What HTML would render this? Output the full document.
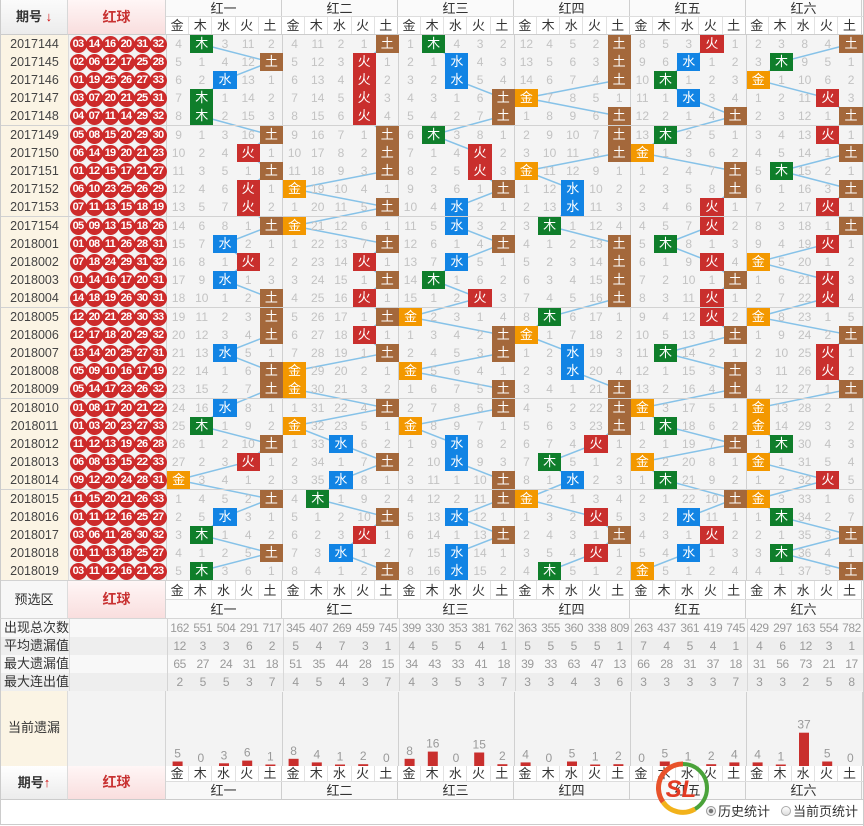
<!DOCTYPE html>
<html><head><meta charset="utf-8">
<style>
*{margin:0;padding:0;box-sizing:border-box}
body{width:864px;height:826px;position:relative;background:#fff;font-family:"Liberation Sans","Noto Sans CJK SC",sans-serif;overflow:hidden;color:#333}
.a{position:absolute}
.r,.st{display:flex;height:18px;line-height:18px;font-size:12px}
.r u,.st u{text-decoration:none;flex:0 0 68px;border-right:1px solid #dcdcdc}
.r u{background:#fbf4e4;color:#444;text-align:center;font-size:12.5px}
.r em{flex:0 0 98px;background:#f3f3f3;display:flex;align-items:center;padding-left:0.5px;border-right:1px solid #d4d4d4}
.r em a{flex:0 0 17px;height:17px;border-radius:50%;background:#cd2b2b;color:#fff;font-size:11px;font-weight:bold;text-align:center;line-height:17px;margin-right:-1px;letter-spacing:-0.7px;font-style:normal}
.r i{flex:0 0 23.2px;text-align:center;color:#c3c3c3;font-style:normal}
.r i.j,.r i.m,.r i.s,.r i.h,.r i.t{color:#fff;font-size:13px}
.j{background:#f39800}.m{background:#0f7e2b}.s{background:#1284e4}.h{background:#c92f2d}.t{background:#a4683b}
.blk{border-bottom:1px solid #d2d2d2}
.hd{display:flex;height:18px;line-height:18px}
.hd span{flex:0 0 23.2px;text-align:center;border-right:1px solid #e2e2e2;font-size:13px;color:#333}
.hd span:nth-child(5n){border-right-color:#cfcfcf}
.gn{display:flex;height:17px;line-height:17px}
.gn span{flex:0 0 116px;text-align:center;border-right:1px solid #cfcfcf;font-size:13px;color:#333}
.st u{color:#333;font-size:13px;padding-left:3px;white-space:nowrap}
.st em{flex:0 0 98px;border-right:1px solid #d4d4d4}
.st i{flex:0 0 23.2px;text-align:center;color:#9a9a9a;font-style:normal;letter-spacing:-0.4px}
.st i:nth-child(5n+2){border-right:1px solid #d8d8d8}
</style></head><body>

<!-- top header -->
<div class="a" style="left:0;top:0;width:68px;height:35px;background:linear-gradient(#fbfbfb,#ececec);border-right:1px solid #d8d8d8;border-bottom:1px solid #ccc;border-left:1px solid #ccc;font-weight:bold;font-size:13px;text-align:center;line-height:34px">期号 <span style="color:#d01010">↓</span></div>
<div class="a" style="left:68px;top:0;width:98px;height:35px;background:linear-gradient(#fff6f6,#f9dede);border-right:1px solid #d4d4d4;border-bottom:1px solid #ccc;color:#c83232;font-weight:bold;font-size:14px;text-align:center;line-height:34px">红球</div>
<div class="a gn" style="left:166px;top:0;width:698px;background:#fafafa;border-bottom:1px solid #ddd"><span>红一</span><span>红二</span><span>红三</span><span>红四</span><span>红五</span><span>红六</span></div>
<div class="a hd" style="left:166px;top:17px;width:698px;background:#fff;border-bottom:1px solid #ccc;height:18px"><span>金</span><span>木</span><span>水</span><span>火</span><span>土</span><span>金</span><span>木</span><span>水</span><span>火</span><span>土</span><span>金</span><span>木</span><span>水</span><span>火</span><span>土</span><span>金</span><span>木</span><span>水</span><span>火</span><span>土</span><span>金</span><span>木</span><span>水</span><span>火</span><span>土</span><span>金</span><span>木</span><span>水</span><span>火</span><span>土</span></div>

<!-- data background + lines -->
<div class="a" style="left:166px;top:35px;width:697px;height:546px;background:#f4f4f4"></div>
<svg class="a" style="left:166px;top:35px" width="698" height="546" viewBox="0 0 698 546">
<g stroke="#d0d0d0" stroke-width="1">
<line x1="116.5" y1="0" x2="116.5" y2="546"/><line x1="232.5" y1="0" x2="232.5" y2="546"/><line x1="348.5" y1="0" x2="348.5" y2="546"/><line x1="464.5" y1="0" x2="464.5" y2="546"/><line x1="580.5" y1="0" x2="580.5" y2="546"/><line x1="696.5" y1="0" x2="696.5" y2="546"/>
</g>
<g fill="none" stroke="#86c2e8" stroke-width="1.5">
<polyline points="34.8,9 104.4,27 58,45 34.8,63 34.8,81 104.4,100 81.2,118 104.4,136 81.2,154 81.2,172 104.4,191 58,209 81.2,227 58,245 104.4,263 104.4,282 104.4,300 58,318 104.4,336 104.4,354 58,373 34.8,391 104.4,409 81.2,427 11.6,445 104.4,464 58,482 34.8,500 104.4,518 34.8,536"/>
<polyline points="220.4,9 197.2,27 197.2,45 197.2,63 197.2,81 220.4,100 220.4,118 220.4,136 127.6,154 220.4,172 127.6,191 220.4,209 197.2,227 220.4,245 197.2,263 220.4,282 197.2,300 220.4,318 127.6,336 127.6,354 220.4,373 127.6,391 174,409 220.4,427 174,445 150.8,464 220.4,482 197.2,500 174,518 220.4,536"/>
<polyline points="266.8,9 290,27 290,45 336.4,63 336.4,81 266.8,100 313.2,118 313.2,136 336.4,154 290,172 290,191 336.4,209 290,227 266.8,245 313.2,263 243.6,282 336.4,300 336.4,318 243.6,336 336.4,354 336.4,373 243.6,391 290,409 290,427 336.4,445 336.4,464 290,482 336.4,500 290,518 290,536"/>
<polyline points="452.4,9 452.4,27 452.4,45 359.6,63 452.4,81 452.4,100 452.4,118 359.6,136 406,154 406,172 382.8,191 452.4,209 452.4,227 452.4,245 452.4,263 382.8,282 359.6,300 406,318 406,336 452.4,354 452.4,373 452.4,391 429.2,409 382.8,427 406,445 359.6,464 429.2,482 452.4,500 429.2,518 382.8,536"/>
<polyline points="545.2,9 522,27 498.8,45 522,63 568.4,81 498.8,100 475.6,118 568.4,136 568.4,154 545.2,172 545.2,191 498.8,209 545.2,227 568.4,245 545.2,263 545.2,282 568.4,300 498.8,318 568.4,336 568.4,354 475.6,373 498.8,391 568.4,409 475.6,427 498.8,445 568.4,464 522,482 545.2,500 522,518 475.6,536"/>
<polyline points="684.4,9 614.8,27 591.6,45 661.2,63 684.4,81 661.2,100 684.4,118 614.8,136 684.4,154 661.2,172 684.4,191 661.2,209 591.6,227 661.2,245 661.2,263 591.6,282 684.4,300 661.2,318 661.2,336 684.4,354 591.6,373 591.6,391 614.8,409 591.6,427 661.2,445 591.6,464 614.8,482 684.4,500 614.8,518 684.4,536"/>
</g>
</svg>

<!-- data rows -->
<div class="a" style="left:0;top:35px;width:864px;border-left:1px solid #ccc">
<div class="blk">
<div class="r"><u>2017144</u><em><a>03</a><a>14</a><a>16</a><a>20</a><a>31</a><a>32</a></em><i>4</i><i class=m>木</i><i>3</i><i>11</i><i>2</i><i>4</i><i>11</i><i>2</i><i>1</i><i class=t>土</i><i>1</i><i class=m>木</i><i>4</i><i>3</i><i>2</i><i>12</i><i>4</i><i>5</i><i>2</i><i class=t>土</i><i>8</i><i>5</i><i>3</i><i class=h>火</i><i>1</i><i>2</i><i>3</i><i>8</i><i>4</i><i class=t>土</i></div>
<div class="r"><u>2017145</u><em><a>02</a><a>06</a><a>12</a><a>17</a><a>25</a><a>28</a></em><i>5</i><i>1</i><i>4</i><i>12</i><i class=t>土</i><i>5</i><i>12</i><i>3</i><i class=h>火</i><i>1</i><i>2</i><i>1</i><i class=s>水</i><i>4</i><i>3</i><i>13</i><i>5</i><i>6</i><i>3</i><i class=t>土</i><i>9</i><i>6</i><i class=s>水</i><i>1</i><i>2</i><i>3</i><i class=m>木</i><i>9</i><i>5</i><i>1</i></div>
<div class="r"><u>2017146</u><em><a>01</a><a>19</a><a>25</a><a>26</a><a>27</a><a>33</a></em><i>6</i><i>2</i><i class=s>水</i><i>13</i><i>1</i><i>6</i><i>13</i><i>4</i><i class=h>火</i><i>2</i><i>3</i><i>2</i><i class=s>水</i><i>5</i><i>4</i><i>14</i><i>6</i><i>7</i><i>4</i><i class=t>土</i><i>10</i><i class=m>木</i><i>1</i><i>2</i><i>3</i><i class=j>金</i><i>1</i><i>10</i><i>6</i><i>2</i></div>
<div class="r"><u>2017147</u><em><a>03</a><a>07</a><a>20</a><a>21</a><a>25</a><a>31</a></em><i>7</i><i class=m>木</i><i>1</i><i>14</i><i>2</i><i>7</i><i>14</i><i>5</i><i class=h>火</i><i>3</i><i>4</i><i>3</i><i>1</i><i>6</i><i class=t>土</i><i class=j>金</i><i>7</i><i>8</i><i>5</i><i>1</i><i>11</i><i>1</i><i class=s>水</i><i>3</i><i>4</i><i>1</i><i>2</i><i>11</i><i class=h>火</i><i>3</i></div>
<div class="r"><u>2017148</u><em><a>04</a><a>07</a><a>11</a><a>14</a><a>29</a><a>32</a></em><i>8</i><i class=m>木</i><i>2</i><i>15</i><i>3</i><i>8</i><i>15</i><i>6</i><i class=h>火</i><i>4</i><i>5</i><i>4</i><i>2</i><i>7</i><i class=t>土</i><i>1</i><i>8</i><i>9</i><i>6</i><i class=t>土</i><i>12</i><i>2</i><i>1</i><i>4</i><i class=t>土</i><i>2</i><i>3</i><i>12</i><i>1</i><i class=t>土</i></div>
</div>
<div class="blk">
<div class="r"><u>2017149</u><em><a>05</a><a>08</a><a>15</a><a>20</a><a>29</a><a>30</a></em><i>9</i><i>1</i><i>3</i><i>16</i><i class=t>土</i><i>9</i><i>16</i><i>7</i><i>1</i><i class=t>土</i><i>6</i><i class=m>木</i><i>3</i><i>8</i><i>1</i><i>2</i><i>9</i><i>10</i><i>7</i><i class=t>土</i><i>13</i><i class=m>木</i><i>2</i><i>5</i><i>1</i><i>3</i><i>4</i><i>13</i><i class=h>火</i><i>1</i></div>
<div class="r"><u>2017150</u><em><a>06</a><a>14</a><a>19</a><a>20</a><a>21</a><a>23</a></em><i>10</i><i>2</i><i>4</i><i class=h>火</i><i>1</i><i>10</i><i>17</i><i>8</i><i>2</i><i class=t>土</i><i>7</i><i>1</i><i>4</i><i class=h>火</i><i>2</i><i>3</i><i>10</i><i>11</i><i>8</i><i class=t>土</i><i class=j>金</i><i>1</i><i>3</i><i>6</i><i>2</i><i>4</i><i>5</i><i>14</i><i>1</i><i class=t>土</i></div>
<div class="r"><u>2017151</u><em><a>01</a><a>12</a><a>15</a><a>17</a><a>21</a><a>27</a></em><i>11</i><i>3</i><i>5</i><i>1</i><i class=t>土</i><i>11</i><i>18</i><i>9</i><i>3</i><i class=t>土</i><i>8</i><i>2</i><i>5</i><i class=h>火</i><i>3</i><i class=j>金</i><i>11</i><i>12</i><i>9</i><i>1</i><i>1</i><i>2</i><i>4</i><i>7</i><i class=t>土</i><i>5</i><i class=m>木</i><i>15</i><i>2</i><i>1</i></div>
<div class="r"><u>2017152</u><em><a>06</a><a>10</a><a>23</a><a>25</a><a>26</a><a>29</a></em><i>12</i><i>4</i><i>6</i><i class=h>火</i><i>1</i><i class=j>金</i><i>19</i><i>10</i><i>4</i><i>1</i><i>9</i><i>3</i><i>6</i><i>1</i><i class=t>土</i><i>1</i><i>12</i><i class=s>水</i><i>10</i><i>2</i><i>2</i><i>3</i><i>5</i><i>8</i><i class=t>土</i><i>6</i><i>1</i><i>16</i><i>3</i><i class=t>土</i></div>
<div class="r"><u>2017153</u><em><a>07</a><a>11</a><a>13</a><a>15</a><a>18</a><a>19</a></em><i>13</i><i>5</i><i>7</i><i class=h>火</i><i>2</i><i>1</i><i>20</i><i>11</i><i>5</i><i class=t>土</i><i>10</i><i>4</i><i class=s>水</i><i>2</i><i>1</i><i>2</i><i>13</i><i class=s>水</i><i>11</i><i>3</i><i>3</i><i>4</i><i>6</i><i class=h>火</i><i>1</i><i>7</i><i>2</i><i>17</i><i class=h>火</i><i>1</i></div>
</div>
<div class="blk">
<div class="r"><u>2017154</u><em><a>05</a><a>09</a><a>13</a><a>15</a><a>18</a><a>26</a></em><i>14</i><i>6</i><i>8</i><i>1</i><i class=t>土</i><i class=j>金</i><i>21</i><i>12</i><i>6</i><i>1</i><i>11</i><i>5</i><i class=s>水</i><i>3</i><i>2</i><i>3</i><i class=m>木</i><i>1</i><i>12</i><i>4</i><i>4</i><i>5</i><i>7</i><i class=h>火</i><i>2</i><i>8</i><i>3</i><i>18</i><i>1</i><i class=t>土</i></div>
<div class="r"><u>2018001</u><em><a>01</a><a>08</a><a>11</a><a>26</a><a>28</a><a>31</a></em><i>15</i><i>7</i><i class=s>水</i><i>2</i><i>1</i><i>1</i><i>22</i><i>13</i><i>7</i><i class=t>土</i><i>12</i><i>6</i><i>1</i><i>4</i><i class=t>土</i><i>4</i><i>1</i><i>2</i><i>13</i><i class=t>土</i><i>5</i><i class=m>木</i><i>8</i><i>1</i><i>3</i><i>9</i><i>4</i><i>19</i><i class=h>火</i><i>1</i></div>
<div class="r"><u>2018002</u><em><a>07</a><a>18</a><a>24</a><a>29</a><a>31</a><a>32</a></em><i>16</i><i>8</i><i>1</i><i class=h>火</i><i>2</i><i>2</i><i>23</i><i>14</i><i class=h>火</i><i>1</i><i>13</i><i>7</i><i class=s>水</i><i>5</i><i>1</i><i>5</i><i>2</i><i>3</i><i>14</i><i class=t>土</i><i>6</i><i>1</i><i>9</i><i class=h>火</i><i>4</i><i class=j>金</i><i>5</i><i>20</i><i>1</i><i>2</i></div>
<div class="r"><u>2018003</u><em><a>01</a><a>14</a><a>16</a><a>17</a><a>20</a><a>31</a></em><i>17</i><i>9</i><i class=s>水</i><i>1</i><i>3</i><i>3</i><i>24</i><i>15</i><i>1</i><i class=t>土</i><i>14</i><i class=m>木</i><i>1</i><i>6</i><i>2</i><i>6</i><i>3</i><i>4</i><i>15</i><i class=t>土</i><i>7</i><i>2</i><i>10</i><i>1</i><i class=t>土</i><i>1</i><i>6</i><i>21</i><i class=h>火</i><i>3</i></div>
<div class="r"><u>2018004</u><em><a>14</a><a>18</a><a>19</a><a>26</a><a>30</a><a>31</a></em><i>18</i><i>10</i><i>1</i><i>2</i><i class=t>土</i><i>4</i><i>25</i><i>16</i><i class=h>火</i><i>1</i><i>15</i><i>1</i><i>2</i><i class=h>火</i><i>3</i><i>7</i><i>4</i><i>5</i><i>16</i><i class=t>土</i><i>8</i><i>3</i><i>11</i><i class=h>火</i><i>1</i><i>2</i><i>7</i><i>22</i><i class=h>火</i><i>4</i></div>
</div>
<div class="blk">
<div class="r"><u>2018005</u><em><a>12</a><a>20</a><a>21</a><a>28</a><a>30</a><a>33</a></em><i>19</i><i>11</i><i>2</i><i>3</i><i class=t>土</i><i>5</i><i>26</i><i>17</i><i>1</i><i class=t>土</i><i class=j>金</i><i>2</i><i>3</i><i>1</i><i>4</i><i>8</i><i class=m>木</i><i>6</i><i>17</i><i>1</i><i>9</i><i>4</i><i>12</i><i class=h>火</i><i>2</i><i class=j>金</i><i>8</i><i>23</i><i>1</i><i>5</i></div>
<div class="r"><u>2018006</u><em><a>12</a><a>17</a><a>18</a><a>20</a><a>29</a><a>32</a></em><i>20</i><i>12</i><i>3</i><i>4</i><i class=t>土</i><i>6</i><i>27</i><i>18</i><i class=h>火</i><i>1</i><i>1</i><i>3</i><i>4</i><i>2</i><i class=t>土</i><i class=j>金</i><i>1</i><i>7</i><i>18</i><i>2</i><i>10</i><i>5</i><i>13</i><i>1</i><i class=t>土</i><i>1</i><i>9</i><i>24</i><i>2</i><i class=t>土</i></div>
<div class="r"><u>2018007</u><em><a>13</a><a>14</a><a>20</a><a>25</a><a>27</a><a>31</a></em><i>21</i><i>13</i><i class=s>水</i><i>5</i><i>1</i><i>7</i><i>28</i><i>19</i><i>1</i><i class=t>土</i><i>2</i><i>4</i><i>5</i><i>3</i><i class=t>土</i><i>1</i><i>2</i><i class=s>水</i><i>19</i><i>3</i><i>11</i><i class=m>木</i><i>14</i><i>2</i><i>1</i><i>2</i><i>10</i><i>25</i><i class=h>火</i><i>1</i></div>
<div class="r"><u>2018008</u><em><a>05</a><a>09</a><a>10</a><a>16</a><a>17</a><a>19</a></em><i>22</i><i>14</i><i>1</i><i>6</i><i class=t>土</i><i class=j>金</i><i>29</i><i>20</i><i>2</i><i>1</i><i class=j>金</i><i>5</i><i>6</i><i>4</i><i>1</i><i>2</i><i>3</i><i class=s>水</i><i>20</i><i>4</i><i>12</i><i>1</i><i>15</i><i>3</i><i class=t>土</i><i>3</i><i>11</i><i>26</i><i class=h>火</i><i>2</i></div>
<div class="r"><u>2018009</u><em><a>05</a><a>14</a><a>17</a><a>23</a><a>26</a><a>32</a></em><i>23</i><i>15</i><i>2</i><i>7</i><i class=t>土</i><i class=j>金</i><i>30</i><i>21</i><i>3</i><i>2</i><i>1</i><i>6</i><i>7</i><i>5</i><i class=t>土</i><i>3</i><i>4</i><i>1</i><i>21</i><i class=t>土</i><i>13</i><i>2</i><i>16</i><i>4</i><i class=t>土</i><i>4</i><i>12</i><i>27</i><i>1</i><i class=t>土</i></div>
</div>
<div class="blk">
<div class="r"><u>2018010</u><em><a>01</a><a>08</a><a>17</a><a>20</a><a>21</a><a>22</a></em><i>24</i><i>16</i><i class=s>水</i><i>8</i><i>1</i><i>1</i><i>31</i><i>22</i><i>4</i><i class=t>土</i><i>2</i><i>7</i><i>8</i><i>6</i><i class=t>土</i><i>4</i><i>5</i><i>2</i><i>22</i><i class=t>土</i><i class=j>金</i><i>3</i><i>17</i><i>5</i><i>1</i><i class=j>金</i><i>13</i><i>28</i><i>2</i><i>1</i></div>
<div class="r"><u>2018011</u><em><a>01</a><a>03</a><a>20</a><a>23</a><a>27</a><a>33</a></em><i>25</i><i class=m>木</i><i>1</i><i>9</i><i>2</i><i class=j>金</i><i>32</i><i>23</i><i>5</i><i>1</i><i class=j>金</i><i>8</i><i>9</i><i>7</i><i>1</i><i>5</i><i>6</i><i>3</i><i>23</i><i class=t>土</i><i>1</i><i class=m>木</i><i>18</i><i>6</i><i>2</i><i class=j>金</i><i>14</i><i>29</i><i>3</i><i>2</i></div>
<div class="r"><u>2018012</u><em><a>11</a><a>12</a><a>13</a><a>19</a><a>26</a><a>28</a></em><i>26</i><i>1</i><i>2</i><i>10</i><i class=t>土</i><i>1</i><i>33</i><i class=s>水</i><i>6</i><i>2</i><i>1</i><i>9</i><i class=s>水</i><i>8</i><i>2</i><i>6</i><i>7</i><i>4</i><i class=h>火</i><i>1</i><i>2</i><i>1</i><i>19</i><i>7</i><i class=t>土</i><i>1</i><i class=m>木</i><i>30</i><i>4</i><i>3</i></div>
<div class="r"><u>2018013</u><em><a>06</a><a>08</a><a>13</a><a>15</a><a>22</a><a>33</a></em><i>27</i><i>2</i><i>3</i><i class=h>火</i><i>1</i><i>2</i><i>34</i><i>1</i><i>7</i><i class=t>土</i><i>2</i><i>10</i><i class=s>水</i><i>9</i><i>3</i><i>7</i><i class=m>木</i><i>5</i><i>1</i><i>2</i><i class=j>金</i><i>2</i><i>20</i><i>8</i><i>1</i><i class=j>金</i><i>1</i><i>31</i><i>5</i><i>4</i></div>
<div class="r"><u>2018014</u><em><a>09</a><a>12</a><a>20</a><a>24</a><a>28</a><a>31</a></em><i class=j>金</i><i>3</i><i>4</i><i>1</i><i>2</i><i>3</i><i>35</i><i class=s>水</i><i>8</i><i>1</i><i>3</i><i>11</i><i>1</i><i>10</i><i class=t>土</i><i>8</i><i>1</i><i class=s>水</i><i>2</i><i>3</i><i>1</i><i class=m>木</i><i>21</i><i>9</i><i>2</i><i>1</i><i>2</i><i>32</i><i class=h>火</i><i>5</i></div>
</div>
<div class="blk">
<div class="r"><u>2018015</u><em><a>11</a><a>15</a><a>20</a><a>21</a><a>26</a><a>33</a></em><i>1</i><i>4</i><i>5</i><i>2</i><i class=t>土</i><i>4</i><i class=m>木</i><i>1</i><i>9</i><i>2</i><i>4</i><i>12</i><i>2</i><i>11</i><i class=t>土</i><i class=j>金</i><i>2</i><i>1</i><i>3</i><i>4</i><i>2</i><i>1</i><i>22</i><i>10</i><i class=t>土</i><i class=j>金</i><i>3</i><i>33</i><i>1</i><i>6</i></div>
<div class="r"><u>2018016</u><em><a>01</a><a>11</a><a>12</a><a>16</a><a>25</a><a>27</a></em><i>2</i><i>5</i><i class=s>水</i><i>3</i><i>1</i><i>5</i><i>1</i><i>2</i><i>10</i><i class=t>土</i><i>5</i><i>13</i><i class=s>水</i><i>12</i><i>1</i><i>1</i><i>3</i><i>2</i><i class=h>火</i><i>5</i><i>3</i><i>2</i><i class=s>水</i><i>11</i><i>1</i><i>1</i><i class=m>木</i><i>34</i><i>2</i><i>7</i></div>
<div class="r"><u>2018017</u><em><a>03</a><a>06</a><a>11</a><a>26</a><a>30</a><a>32</a></em><i>3</i><i class=m>木</i><i>1</i><i>4</i><i>2</i><i>6</i><i>2</i><i>3</i><i class=h>火</i><i>1</i><i>6</i><i>14</i><i>1</i><i>13</i><i class=t>土</i><i>2</i><i>4</i><i>3</i><i>1</i><i class=t>土</i><i>4</i><i>3</i><i>1</i><i class=h>火</i><i>2</i><i>2</i><i>1</i><i>35</i><i>3</i><i class=t>土</i></div>
<div class="r"><u>2018018</u><em><a>01</a><a>11</a><a>13</a><a>18</a><a>25</a><a>27</a></em><i>4</i><i>1</i><i>2</i><i>5</i><i class=t>土</i><i>7</i><i>3</i><i class=s>水</i><i>1</i><i>2</i><i>7</i><i>15</i><i class=s>水</i><i>14</i><i>1</i><i>3</i><i>5</i><i>4</i><i class=h>火</i><i>1</i><i>5</i><i>4</i><i class=s>水</i><i>1</i><i>3</i><i>3</i><i class=m>木</i><i>36</i><i>4</i><i>1</i></div>
<div class="r"><u>2018019</u><em><a>03</a><a>11</a><a>12</a><a>16</a><a>21</a><a>23</a></em><i>5</i><i class=m>木</i><i>3</i><i>6</i><i>1</i><i>8</i><i>4</i><i>1</i><i>2</i><i class=t>土</i><i>8</i><i>16</i><i class=s>水</i><i>15</i><i>2</i><i>4</i><i class=m>木</i><i>5</i><i>1</i><i>2</i><i class=j>金</i><i>5</i><i>1</i><i>2</i><i>4</i><i>4</i><i>1</i><i>37</i><i>5</i><i class=t>土</i></div>
</div>
</div>

<!-- 预选区 -->
<div class="a" style="left:0;top:581px;width:68px;height:38px;background:#f7f7f7;border-left:1px solid #ccc;border-right:1px solid #dcdcdc;border-bottom:1px solid #d6d6d6;font-size:13px;text-align:center;line-height:37px">预选区</div>
<div class="a" style="left:68px;top:581px;width:98px;height:38px;background:linear-gradient(#fff6f6,#f9dede);border-right:1px solid #d4d4d4;border-bottom:1px solid #d6d6d6;color:#c83232;font-weight:bold;font-size:14px;text-align:center;line-height:37px">红球</div>
<div class="a hd" style="left:166px;top:581px;width:698px;height:19px;background:#fff;border-bottom:1px solid #ddd;line-height:19px"><span>金</span><span>木</span><span>水</span><span>火</span><span>土</span><span>金</span><span>木</span><span>水</span><span>火</span><span>土</span><span>金</span><span>木</span><span>水</span><span>火</span><span>土</span><span>金</span><span>木</span><span>水</span><span>火</span><span>土</span><span>金</span><span>木</span><span>水</span><span>火</span><span>土</span><span>金</span><span>木</span><span>水</span><span>火</span><span>土</span></div>
<div class="a gn" style="left:166px;top:600px;width:698px;height:19px;line-height:19px;background:#fafafa;border-bottom:1px solid #d6d6d6"><span>红一</span><span>红二</span><span>红三</span><span>红四</span><span>红五</span><span>红六</span></div>

<!-- stats -->
<div class="a" style="left:0;top:619px;width:864px;border-left:1px solid #ccc">
<div class="st" style="background:#f8f8f8"><u>出现总次数</u><em></em><i>162</i><i>551</i><i>504</i><i>291</i><i>717</i><i>345</i><i>407</i><i>269</i><i>459</i><i>745</i><i>399</i><i>330</i><i>353</i><i>381</i><i>762</i><i>363</i><i>355</i><i>360</i><i>338</i><i>809</i><i>263</i><i>437</i><i>361</i><i>419</i><i>745</i><i>429</i><i>297</i><i>163</i><i>554</i><i>782</i></div>
<div class="st" style="background:#eeeeee"><u>平均遗漏值</u><em></em><i>12</i><i>3</i><i>3</i><i>6</i><i>2</i><i>5</i><i>4</i><i>7</i><i>3</i><i>1</i><i>4</i><i>5</i><i>5</i><i>4</i><i>1</i><i>5</i><i>5</i><i>5</i><i>5</i><i>1</i><i>7</i><i>4</i><i>5</i><i>4</i><i>1</i><i>4</i><i>6</i><i>12</i><i>3</i><i>1</i></div>
<div class="st" style="background:#f8f8f8"><u>最大遗漏值</u><em></em><i>65</i><i>27</i><i>24</i><i>31</i><i>18</i><i>51</i><i>35</i><i>44</i><i>28</i><i>15</i><i>34</i><i>43</i><i>33</i><i>41</i><i>18</i><i>39</i><i>33</i><i>63</i><i>47</i><i>13</i><i>66</i><i>28</i><i>31</i><i>37</i><i>18</i><i>31</i><i>56</i><i>73</i><i>21</i><i>17</i></div>
<div class="st" style="background:#eeeeee"><u>最大连出值</u><em></em><i>2</i><i>5</i><i>5</i><i>3</i><i>7</i><i>4</i><i>5</i><i>4</i><i>3</i><i>7</i><i>4</i><i>3</i><i>5</i><i>3</i><i>7</i><i>3</i><i>3</i><i>4</i><i>3</i><i>6</i><i>3</i><i>3</i><i>3</i><i>3</i><i>7</i><i>3</i><i>3</i><i>2</i><i>5</i><i>8</i></div>
</div>

<!-- 当前遗漏 -->
<div class="a" style="left:0;top:691px;width:68px;height:75px;background:#fbf4e4;border-left:1px solid #ccc;border-right:1px solid #dcdcdc;font-size:13px;text-align:center;line-height:74px">当前遗漏</div>
<div class="a" style="left:68px;top:691px;width:98px;height:75px;background:#f3f3f3;border-right:1px solid #d4d4d4"></div>
<div class="a" style="left:166px;top:691px;width:698px;height:75px;background:#f3f3f3"></div>
<svg class="a" style="left:166px;top:692px" width="698" height="74" viewBox="0 0 698 74" font-family="Liberation Sans, sans-serif" font-size="12" fill="#999" text-anchor="middle">
<g stroke="#d0d0d0"><line x1="116.5" y1="0" x2="116.5" y2="74"/><line x1="232.5" y1="0" x2="232.5" y2="74"/><line x1="348.5" y1="0" x2="348.5" y2="74"/><line x1="464.5" y1="0" x2="464.5" y2="74"/><line x1="580.5" y1="0" x2="580.5" y2="74"/><line x1="696.5" y1="0" x2="696.5" y2="74"/></g>
<g fill="#c92f2d">
<rect x="6.6" y="69.5" width="10" height="4.5"/><rect x="53" y="71.3" width="10" height="2.7"/><rect x="76.2" y="68.6" width="10" height="5.4"/><rect x="99.4" y="72.5" width="10" height="1.5"/>
<rect x="122.6" y="66.8" width="10" height="7.2"/><rect x="145.8" y="70.4" width="10" height="3.6"/><rect x="169" y="72.5" width="10" height="1.5"/><rect x="192.2" y="72.2" width="10" height="1.8"/>
<rect x="238.6" y="66.8" width="10" height="7.2"/><rect x="261.8" y="59.6" width="10" height="14.4"/><rect x="308.2" y="60.5" width="10" height="13.5"/><rect x="331.4" y="72.2" width="10" height="1.8"/>
<rect x="354.6" y="70.4" width="10" height="3.6"/><rect x="401" y="69.5" width="10" height="4.5"/><rect x="424.2" y="72.5" width="10" height="1.5"/><rect x="447.4" y="72.2" width="10" height="1.8"/>
<rect x="493.8" y="69.5" width="10" height="4.5"/><rect x="517" y="72.5" width="10" height="1.5"/><rect x="540.2" y="72.2" width="10" height="1.8"/><rect x="563.4" y="70.4" width="10" height="3.6"/>
<rect x="586.6" y="70.4" width="10" height="3.6"/><rect x="609.8" y="72.5" width="10" height="1.5"/><rect x="633" y="40.7" width="10" height="33.3"/><rect x="656.2" y="69.5" width="10" height="4.5"/>
</g>
<text x="11.6" y="65.5">5</text><text x="34.8" y="70">0</text><text x="58" y="67.3">3</text><text x="81.2" y="64.6">6</text><text x="104.4" y="68.5">1</text>
<text x="127.6" y="62.8">8</text><text x="150.8" y="66.4">4</text><text x="174" y="68.5">1</text><text x="197.2" y="68.2">2</text><text x="220.4" y="70">0</text>
<text x="243.6" y="62.8">8</text><text x="266.8" y="55.6">16</text><text x="290" y="70">0</text><text x="313.2" y="56.5">15</text><text x="336.4" y="68.2">2</text>
<text x="359.6" y="66.4">4</text><text x="382.8" y="70">0</text><text x="406" y="65.5">5</text><text x="429.2" y="68.5">1</text><text x="452.4" y="68.2">2</text>
<text x="475.6" y="70">0</text><text x="498.8" y="65.5">5</text><text x="522" y="68.5">1</text><text x="545.2" y="68.2">2</text><text x="568.4" y="66.4">4</text>
<text x="591.6" y="66.4">4</text><text x="614.8" y="68.5">1</text><text x="638" y="36.7">37</text><text x="661.2" y="65.5">5</text><text x="684.4" y="70">0</text>
</svg>

<!-- bottom header -->
<div class="a" style="left:0;top:766px;width:68px;height:34px;background:linear-gradient(#fff,#ececec);border-left:1px solid #ccc;border-right:1px solid #dcdcdc;border-bottom:1px solid #ccc;font-weight:bold;font-size:13px;text-align:center;line-height:33px">期号<span style="color:#d01010">↑</span></div>
<div class="a" style="left:68px;top:766px;width:98px;height:34px;background:linear-gradient(#fff6f6,#f9dede);border-right:1px solid #d4d4d4;border-bottom:1px solid #ccc;color:#c83232;font-weight:bold;font-size:14px;text-align:center;line-height:33px">红球</div>
<div class="a hd" style="left:166px;top:766px;width:698px;height:16px;line-height:16px;background:#fff;border-bottom:1px solid #ddd"><span>金</span><span>木</span><span>水</span><span>火</span><span>土</span><span>金</span><span>木</span><span>水</span><span>火</span><span>土</span><span>金</span><span>木</span><span>水</span><span>火</span><span>土</span><span>金</span><span>木</span><span>水</span><span>火</span><span>土</span><span>金</span><span>木</span><span>水</span><span>火</span><span>土</span><span>金</span><span>木</span><span>水</span><span>火</span><span>土</span></div>
<div class="a gn" style="left:166px;top:782px;width:698px;height:18px;line-height:17px;background:#f8f8f8;border-bottom:1px solid #ccc"><span>红一</span><span>红二</span><span>红三</span><span>红四</span><span>红五</span><span>红六</span></div>

<!-- footer area -->
<div class="a" style="left:0;top:800px;width:864px;height:25px;border-left:1px solid #ccc;border-right:1px solid #ccc;border-bottom:1px solid #ccc;background:#fff"></div>
<div class="a" style="left:706px;top:806px;width:10px;height:10px;border-radius:50%;border:1px solid #999;background:radial-gradient(#777 0 2px,#eee 2.5px)"></div>
<div class="a" style="left:718px;top:803px;font-size:13px;line-height:17px;color:#333">历史统计</div>
<div class="a" style="left:781px;top:806px;width:10px;height:10px;border-radius:50%;border:1px solid #aaa;background:linear-gradient(#fff,#ddd)"></div>
<div class="a" style="left:793px;top:803px;font-size:13px;line-height:17px;color:#333">当前页统计</div>

<!-- watermark logo -->
<svg class="a" style="left:655px;top:760px" width="56" height="56" viewBox="0 0 56 56">
<path d="M28 4 A24 24 0 0 0 8 42" fill="none" stroke="#e8522a" stroke-width="5"/>
<path d="M8 42 A24 24 0 0 0 40 49" fill="none" stroke="#f2b21b" stroke-width="5"/>
<path d="M28 4 A24 24 0 0 1 52 28 A24 24 0 0 1 40 49" fill="none" stroke="#4aa23a" stroke-width="4"/>
<text x="26" y="37" font-family="Liberation Sans, sans-serif" font-size="24" font-weight="bold" font-style="italic" fill="#e23a24" text-anchor="middle">SL</text>
</svg>

<!-- right border -->
<div class="a" style="left:863px;top:0;width:1px;height:826px;background:#ccc"></div>
</body></html>
